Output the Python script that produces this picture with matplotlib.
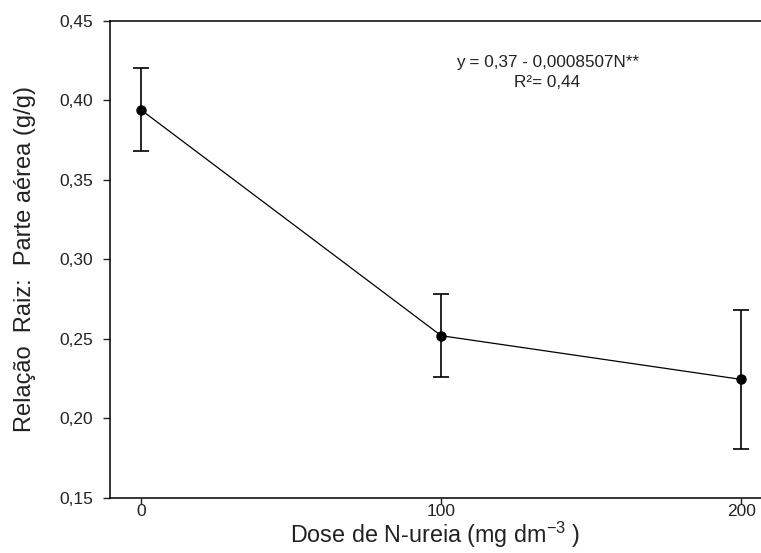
import matplotlib.pyplot as plt
from matplotlib.ticker import FuncFormatter

plt.rcParams['font.family'] = ['Liberation Sans', 'DejaVu Sans']
plt.rcParams['mathtext.default'] = 'regular'

# dose de N-ureia (mg dm-3) e relação raiz:parte aérea
dose = [0, 100, 200]
relacao = [0.394, 0.252, 0.2245]
erro = [0.026, 0.026, 0.0435]

fig = plt.figure(figsize=(7.61, 5.53), dpi=100)
ax = fig.add_axes([0.1445, 0.0995, 0.8555, 0.8631])

ax.errorbar(dose, relacao, yerr=erro, color='black', lw=0.9,
            marker='o', ms=6.5, elinewidth=1.2, capsize=5.5, capthick=1.2)

ax.set_xlim(-10.3, 206.5)
ax.set_ylim(0.15, 0.45)
ax.set_xticks([0, 100, 200])
ax.set_yticks([0.15, 0.20, 0.25, 0.30, 0.35, 0.40, 0.45])
ax.yaxis.set_major_formatter(FuncFormatter(lambda v, p: f'{v:.2f}'.replace('.', ',')))
ax.tick_params(direction='out', width=1, labelsize=12.5, colors='#222222')
ax.tick_params(axis='y', length=5, pad=7)
ax.tick_params(axis='x', length=4.5, pad=0)
ax.spines['right'].set_visible(False)
for s in ['left', 'bottom', 'top']:
    ax.spines[s].set_linewidth(1.1)

ax.set_xlabel('Dose de N-ureia (mg dm$^{-3}$ )', fontsize=16.8, color='#222222', labelpad=0.5)
ax.set_ylabel('Relação  Raiz:  Parte aérea (g/g)', fontsize=17, color='#222222', labelpad=17)

ax.text(135.4, 0.4175, 'y = 0,37 - 0,0008507N**\nR²= 0,44', ha='center', va='center',
        multialignment='center', fontsize=12.3, color='#222222', linespacing=1.4)

fig.savefig('out.png', dpi=100)
